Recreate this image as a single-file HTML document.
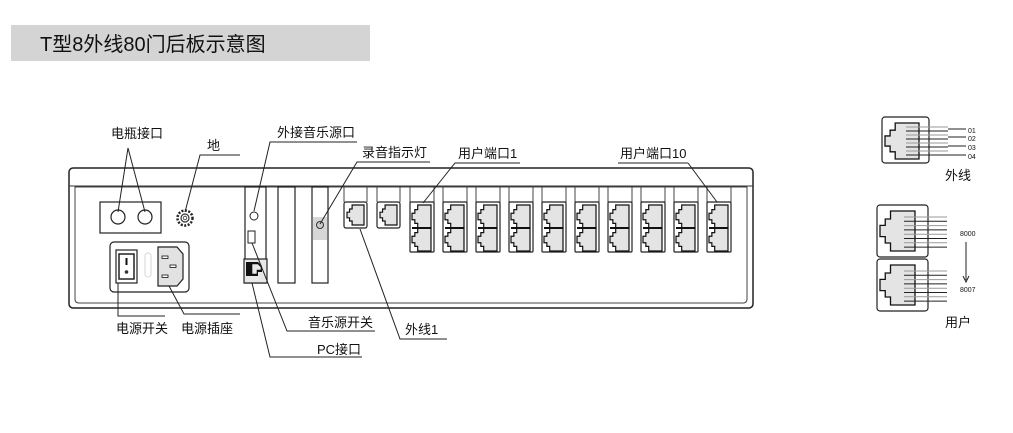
<!DOCTYPE html>
<html><head><meta charset="utf-8">
<style>
html,body{margin:0;padding:0;background:#fff;}
svg{display:block;}
text{font-family:"Liberation Sans","Noto Sans CJK SC",sans-serif;fill:#111;}
</style></head>
<body>
<svg id="s" width="1013" height="433" viewBox="0 0 1013 433" xmlns="http://www.w3.org/2000/svg">
<rect x="11" y="25" width="359" height="36" fill="#d4d4d4"/>
<text x="40" y="51" font-size="20">T型8外线80门后板示意图</text>

<!-- main chassis -->
<rect x="69" y="168" width="684" height="140" rx="4" fill="#fff" stroke="#222" stroke-width="1.5"/>
<path d="M75 187 H747 V299 Q747 303 743 303 H79 Q75 303 75 299 Z" fill="#fff" stroke="#444" stroke-width="1"/>
<line x1="69" y1="186" x2="753" y2="186" stroke="#333" stroke-width="1"/>

<!-- battery -->
<rect x="100" y="202" width="61" height="31" fill="#fff" stroke="#222" stroke-width="1.2"/>
<circle cx="118" cy="217" r="7" fill="#fff" stroke="#222" stroke-width="1.2"/>
<circle cx="145" cy="217" r="7" fill="#fff" stroke="#222" stroke-width="1.2"/>
<!-- ground -->
<circle cx="185" cy="218" r="7.5" fill="#fff" stroke="#222" stroke-width="2.5" stroke-dasharray="2 1.5"/>
<circle cx="185" cy="218" r="4" fill="#fff" stroke="#333" stroke-width="1.2"/>
<circle cx="185" cy="218" r="1.8" fill="#fff" stroke="#333" stroke-width="0.8"/>

<!-- power panel -->
<rect x="110" y="242" width="79" height="50" rx="4" fill="#fff" stroke="#222" stroke-width="1.2"/>
<rect x="116" y="250" width="21" height="33" fill="#fff" stroke="#222" stroke-width="1.2"/>
<rect x="119" y="254" width="15" height="25" fill="#fff" stroke="#222" stroke-width="1.5"/>
<line x1="126.5" y1="258" x2="126.5" y2="265" stroke="#111" stroke-width="2"/>
<circle cx="126.5" cy="272" r="1.8" fill="#333"/>
<rect x="145" y="253" width="6" height="24" rx="3" fill="none" stroke="#ddd" stroke-width="1.2"/>
<path d="M158 247 H177 L183 254 V279 L177 286 H158 Z" fill="#e2e2e2" stroke="#222" stroke-width="1.2"/>
<rect x="162" y="256" width="6" height="2.5" fill="#fff" stroke="#111" stroke-width="0.8"/>
<rect x="170" y="265" width="6" height="2.5" fill="#fff" stroke="#111" stroke-width="0.8"/>
<rect x="162" y="275" width="6" height="2.5" fill="#fff" stroke="#111" stroke-width="0.8"/>

<!-- cards -->
<rect x="245" y="187" width="21" height="96" fill="#fff" stroke="#222" stroke-width="1.2"/>
<circle cx="254" cy="216" r="4" fill="#fff" stroke="#222" stroke-width="1"/>
<rect x="248" y="231" width="7" height="12" fill="#fff" stroke="#222" stroke-width="1"/>
<rect x="244" y="259" width="23" height="24" fill="#e8e8e8" stroke="#222" stroke-width="1.2"/>
<path d="M246 262 H258 L262 266 V272 H258 V276 H246 Z" fill="#111"/>
<path d="M252 264 H258 L261 267 V270 H257 V274 H252 Z" fill="#e8e8e8" stroke="#111" stroke-width="0.6"/>
<rect x="278" y="187" width="17" height="96" fill="#fff" stroke="#222" stroke-width="1.2"/>
<rect x="312" y="187" width="16" height="96" fill="#fff" stroke="#222" stroke-width="1.2"/>
<rect x="313" y="217" width="14" height="23" fill="#d6d6d6"/>
<circle cx="320" cy="225" r="3.5" fill="#ccc" stroke="#333" stroke-width="1"/>

<g id="ports"></g>

<!-- right side: trunk jack -->
<rect x="882" y="117" width="47" height="46" rx="3" fill="#fff" stroke="#222" stroke-width="1.2"/>
<g id="right"></g>

<!-- leader lines -->
<g stroke="#222" stroke-width="1" fill="none">
<polyline points="118,212 128,148 145,212"/>
<polyline points="240,155 200,155 185,212"/>
<polyline points="357,142 270,142 254,211"/>
<polyline points="430,162 357,162 320,224"/>
<polyline points="520,163 455,163 423,203"/>
<polyline points="688,163 618,163"/>
<polyline points="688,163 717,202"/>
<polyline points="118,283 118,316 165,316"/>
<polyline points="169,286 184,314 240,314"/>
<polyline points="252,243 287,331 375,331"/>
<polyline points="252,283 270,357 362,357"/>
<polyline points="360,229 400,339 447,339"/>
</g>

<g font-size="13">
<text x="111" y="138">电瓶接口</text>
<text x="207" y="150">地</text>
<text x="277" y="137">外接音乐源口</text>
<text x="362" y="157">录音指示灯</text>
<text x="458" y="158">用户端口1</text>
<text x="620" y="158">用户端口10</text>
<text x="116" y="333">电源开关</text>
<text x="181" y="333">电源插座</text>
<text x="308" y="327">音乐源开关</text>
<text x="317" y="354">PC接口</text>
<text x="405" y="334">外线1</text>
<text x="945" y="180">外线</text>
<text x="945" y="327">用户</text>
</g>
<g font-size="7">
<text x="968" y="133">01</text>
<text x="968" y="141">02</text>
<text x="968" y="150">03</text>
<text x="968" y="159">04</text>
<text x="960" y="236">8000</text>
<text x="960" y="292">8007</text>
</g>
<line x1="966" y1="242" x2="966" y2="280" stroke="#222" stroke-width="1"/>
<path d="M963 276 L966 282 L969 276" fill="none" stroke="#222" stroke-width="1"/>
</svg>
<script>
var NS="http://www.w3.org/2000/svg";
function el(p,t,a){var e=document.createElementNS(NS,t);for(var k in a)e.setAttribute(k,a[k]);p.appendChild(e);return e;}
function jack(p,x,y,w,h,sw){
 var d="M"+(x+w*0.3)+" "+y+"H"+(x+w)+"V"+(y+h)+"H"+(x+w*0.3)+"V"+(y+h*0.8)+"H"+(x+w*0.15)+"V"+(y+h*0.64)+"H"+x+"V"+(y+h*0.36)+"H"+(x+w*0.15)+"V"+(y+h*0.2)+"H"+(x+w*0.3)+"Z";
 el(p,"path",{d:d,fill:"#e4e4e4",stroke:"#111","stroke-width":sw||1.2});
}
var g=document.getElementById("ports");
function stub(x,w){el(g,"path",{d:"M"+x+" 187V202M"+(x+w)+" 187V202",stroke:"#444","stroke-width":1,fill:"none"});}
// trunk
[344,377].forEach(function(x){
 stub(x,23);
 el(g,"rect",{x:x,y:202,width:23,height:26,rx:2,fill:"#fff",stroke:"#222","stroke-width":1.2});
 jack(g,x+3,205,17,20);
});
for(var i=0;i<10;i++){
 var x=410+33*i;
 stub(x,24);
 el(g,"rect",{x:x,y:202,width:24,height:50,rx:1,fill:"#fff",stroke:"#222","stroke-width":1.2});
 jack(g,x+2,205,19,23);
 jack(g,x+2,228,19,23);
 el(g,"line",{x1:x+2,y1:228,x2:x+21,y2:228,stroke:"#111","stroke-width":2});
}
var r=document.getElementById("right");
jack(r,885,123,34,36,1.3);
for(var k=0;k<8;k++){
 var yy=127+k*4;
 el(r,"line",{x1:906,y1:yy,x2:948,y2:yy,stroke:k%2?"#222":"#999","stroke-width":1});
}
[129,137,146,155].forEach(function(yy){el(r,"line",{x1:948,y1:yy,x2:966,y2:yy,stroke:"#222","stroke-width":1});});
[205,259].forEach(function(y0){
 el(r,"rect",{x:877,y:y0,width:51,height:52,rx:3,fill:"#fff",stroke:"#222","stroke-width":1.2});
 jack(r,880,y0+6,35,40,1.3);
 for(var k=0;k<8;k++){
  var yy=y0+12+k*4.3;
  el(r,"line",{x1:904,y1:yy,x2:947,y2:yy,stroke:k%2?"#222":"#999","stroke-width":1});
 }
});
</script>
</body></html>
